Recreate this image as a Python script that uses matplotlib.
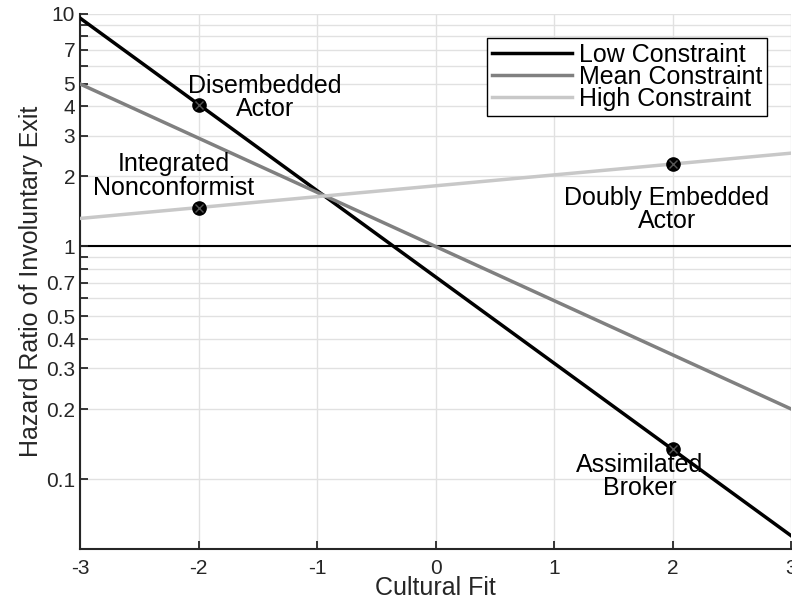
import numpy as np
import matplotlib
matplotlib.use("Agg")
import matplotlib.pyplot as plt

plt.rcParams['font.family'] = ['Liberation Sans', 'DejaVu Sans']

# endpoints of each fitted line (hazard ratio at cultural fit -3 and 3)
fit_x = [-3, 3]
low_hr = [9.6, 0.057]
mean_hr = [5.0, 0.2]
high_hr = [1.32, 2.52]

# highlighted points
point_x = [-2, -2, 2, 2]
point_hr = [4.05, 1.46, 2.26, 0.135]

# annotation labels and where they sit
labels = ['Disembedded\nActor', 'Integrated\nNonconformist',
          'Doubly Embedded\nActor', 'Assimilated\nBroker']
label_x = [-1.44, -2.21, 1.95, 1.72]
label_y = [4.39, 2.01, 1.44, 0.103]

yticks = [0.1, 0.2, 0.3, 0.4, 0.5, 0.6, 0.7, 0.8, 0.9,
          1, 2, 3, 4, 5, 6, 7, 8, 9, 10]
ytick_labels = ['0.1', '0.2', '0.3', '0.4', '0.5', '', '0.7', '', '',
                '1', '2', '3', '4', '5', '', '7', '', '', '10']
xticks = [-3, -2, -1, 0, 1, 2, 3]

fig = plt.figure(figsize=(7.92, 6.06), dpi=100)
ax = fig.add_axes([0.101, 0.094, 0.898, 0.883])

ax.set_yscale('log')
ax.set_xlim(-3, 3)
ax.set_ylim(0.05, 10)

# grid
for yt in yticks:
    ax.axhline(yt, color='#e1e1e1', lw=1.0, zorder=0)
for xt in xticks:
    ax.axvline(xt, color='#e1e1e1', lw=1.0, zorder=0)
ax.axhline(1, color='black', lw=1.5, zorder=1)

ax.plot(fit_x, low_hr, color='black', lw=2.5, label='Low Constraint', zorder=3)
ax.plot(fit_x, mean_hr, color='#808080', lw=2.5, label='Mean Constraint', zorder=3)
ax.plot(fit_x, high_hr, color='#c8c8c8', lw=2.5, label='High Constraint', zorder=3)

ax.plot(point_x, point_hr, 'o', color='black', markersize=9.5, zorder=4)
ax.plot(point_x, point_hr, 'x', color='#555555', markersize=6, mew=1, zorder=5)

for txt, lx, ly in zip(labels, label_x, label_y):
    ax.text(lx, ly, txt, ha='center', va='center', fontsize=18,
            linespacing=0.95, zorder=6)

ax.set_yticks(yticks)
ax.set_yticklabels(ytick_labels)
ax.yaxis.set_minor_locator(matplotlib.ticker.NullLocator())
ax.set_xticks(xticks)
ax.set_xticklabels([str(v) for v in xticks])

ax.tick_params(axis='both', direction='in', length=6, width=1.3,
               labelsize=15, colors='#262626', labelcolor='#262626')
ax.tick_params(axis='x', pad=7)
for side in ['top', 'right']:
    ax.spines[side].set_visible(False)
for side in ['left', 'bottom']:
    ax.spines[side].set_linewidth(1.5)
    ax.spines[side].set_color('#262626')

ax.set_xlabel('Cultural Fit', fontsize=18, labelpad=-1, color='#262626')
ax.set_ylabel('Hazard Ratio of Involuntary Exit', fontsize=18, labelpad=2,
              color='#262626')

leg = ax.legend(loc='upper right', bbox_to_anchor=(0.966, 0.955),
                borderaxespad=0, fontsize=18, frameon=True, fancybox=False,
                handlelength=3.2, handletextpad=0.25, labelspacing=-0.08,
                borderpad=0.2)
leg.get_frame().set_edgecolor('black')
leg.get_frame().set_linewidth(1.0)
leg.get_frame().set_alpha(1)

fig.savefig('out.png', dpi=100)
